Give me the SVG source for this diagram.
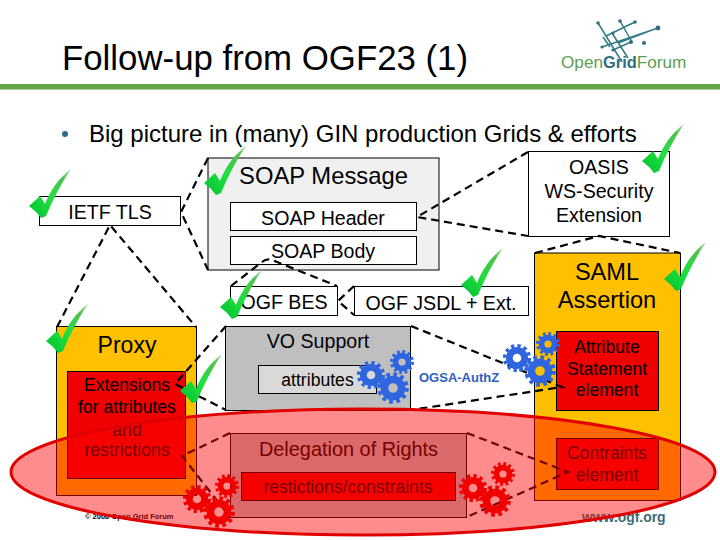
<svg xmlns="http://www.w3.org/2000/svg" xmlns:xlink="http://www.w3.org/1999/xlink" width="720" height="540" viewBox="0 0 720 540">
<style>
text{font-family:"Liberation Sans",Arial,sans-serif;fill:#000}
.c{text-anchor:middle}
.b{stroke:#000;stroke-width:1}
.dash{fill:none;stroke:#000;stroke-width:2.2;stroke-dasharray:8 5}
.s17{font-size:17.6px}.s19{font-size:19.6px}.s23{font-size:23.6px}
.blue{stroke:#2f66e0}.red{stroke:#f00000}
.lg{stroke:#2f7a86;stroke-width:1.5;fill:none}
</style>
<defs>
<linearGradient id="chk" x1="0" y1="1" x2="1" y2="0">
<stop offset="0" stop-color="#00c030"/><stop offset=".45" stop-color="#1fe040"/><stop offset=".8" stop-color="#50c050"/><stop offset="1" stop-color="#a8dca8"/>
</linearGradient>
<path id="check" d="M0 37L11 27L16 35C22 20 30 9 42 0C32 15 24 30 17 47L12 49Q7 42 0 37Z" fill="url(#chk)"/>
<g id="gear" fill="none">
<circle r="0.82" transform="scale(14.700)" stroke-width="0.28" stroke-dasharray="0.22 0.2094"/>
<circle r="0.52" transform="scale(14.700)" stroke-width="0.46"/>
</g>
</defs>
<rect width="720" height="540" fill="#fff"/>
<g id="header">
<text x="62" y="70" font-size="34.8">Follow-up from OGF23 (1)</text>
<rect x="0" y="84" width="720" height="5.5" fill="#63a646"/>
<g id="logo">
<path class="lg" d="M598 23L622 62M620 21L632 42M612 33L628 58M602 47L658 28M606 36L635 22M613 50L631 42M618 43L652 30M603 37L610 47"/>
<g fill="#2f6f80"><circle cx="598" cy="23" r="1.8"/><circle cx="620" cy="21" r="1.8"/><circle cx="635" cy="22" r="1.8"/><circle cx="658" cy="28" r="2.4"/><circle cx="644" cy="43" r="2"/><circle cx="631" cy="42" r="2"/><circle cx="613" cy="50" r="1.6"/><circle cx="602" cy="47" r="1.6"/><circle cx="613" cy="33" r="1.6"/></g>
<text x="561" y="68" font-size="17.200" style="fill:#5f9e50">Open<tspan style="fill:#2f6f80;font-weight:bold" font-size="16.400">Grid</tspan>Forum</text>
</g>
</g>
<g id="bullet">
<circle cx="65" cy="134" r="3" fill="#2e6d8e"/>
<text x="89" y="141.500" font-size="24">Big picture in (many) GIN production Grids &amp; efforts</text>
</g>
<g id="soap-message"><rect class="b" x="208" y="158" width="231" height="112" fill="#f0f0f0"/><text x="323.500" y="184" class="c" font-size="23.8">SOAP Message</text></g>
<g id="soap-header"><rect class="b" x="230.500" y="202.500" width="186" height="28" fill="#fff"/><text x="323" y="225" class="c s19">SOAP Header</text></g>
<g id="soap-body"><rect class="b" x="230.500" y="236.500" width="186" height="28" fill="#fff"/><text x="323" y="258" class="c s19">SOAP Body</text></g>
<g id="ietf-tls"><rect class="b" x="39.500" y="196.500" width="141" height="29" fill="#fff"/><text x="110" y="219" class="c s19">IETF TLS</text></g>
<g id="ogf-bes"><rect class="b" x="230.500" y="286.500" width="107" height="29" fill="#fff"/><text x="284" y="309" class="c s19">OGF BES</text></g>
<g id="ogf-jsdl"><rect class="b" x="354.500" y="286.500" width="174" height="29" fill="#fff"/><text x="441" y="310" class="c s19">OGF JSDL + Ext.</text></g>
<g id="oasis"><rect class="b" x="528.500" y="151.500" width="141" height="85" fill="#fff"/><text class="c s19" x="599" y="174">OASIS</text><text class="c s19" x="599" y="198">WS-Security</text><text class="c s19" x="599" y="222">Extension</text></g>
<g id="saml"><rect class="b" x="534.500" y="253" width="146" height="247.500" fill="#ffc000"/><text class="c s23" x="607" y="280">SAML</text><text class="c s23" x="607" y="308">Assertion</text></g>
<g id="attribute-statement"><rect class="b" x="556.500" y="331.500" width="102" height="79" fill="#f00000"/><text class="c s17" x="607" y="353">Attribute</text><text class="c s17" x="607" y="375">Statement</text><text class="c s17" x="607" y="396">element</text></g>
<g id="constraints"><rect class="b" x="556.500" y="438.500" width="102" height="51" fill="#f00000"/><text class="c s17" x="607" y="459">Contraints</text><text class="c s17" x="607" y="481">element</text></g>
<g id="proxy"><rect class="b" x="56.500" y="326.500" width="140" height="169" fill="#ffc000"/><text class="c" font-size="23" x="127" y="353">Proxy</text></g>
<g id="extensions"><rect class="b" x="67.500" y="371.500" width="118" height="107" fill="#f00000"/><text class="c s17" x="127" y="391">Extensions</text><text class="c s17" x="127" y="413">for attributes</text><text class="c s17" x="127" y="436">and</text><text class="c s17" x="127" y="456">restrictions</text></g>
<g id="vo-support"><rect class="b" x="225.500" y="326.500" width="185" height="84" fill="#bfbfbf"/><text class="c s19" x="318" y="348">VO Support</text></g>
<g id="attributes"><rect class="b" x="258.500" y="365.500" width="118" height="28" fill="#d9d9d9"/><text class="c s17" x="317.500" y="386">attributes</text></g>
<g id="delegation"><rect class="b" x="230.500" y="433.500" width="236" height="84" fill="#bfbfbf"/><text class="c" font-size="19.900" x="348.500" y="456">Delegation of Rights</text></g>
<g id="restrictions"><rect class="b" x="241.500" y="472.500" width="214" height="28" fill="#f00000"/><text class="c s17" x="348" y="493">restictions/constraints</text></g>
<g id="connectors">
<path class="dash" d="M208 158L181 212L208 270"/>
<path class="dash" d="M57 327L110 225L196 327"/>
<path class="dash" d="M528 152L417 217L528 236"/>
<path class="dash" d="M535 253L599 236L680 253"/>
<path class="dash" d="M231 286L262 262Q267 258 272 260L337 286"/>
<path class="dash" d="M354 286L338 301L354 315"/>
<path class="dash" d="M226 326L175 384L226 410"/>
<path class="dash" d="M411 326L562 387L411 410"/>
<path class="dash" d="M230 433L182 456L230 517"/>
<path class="dash" d="M467 433L568 472L467 517"/>
</g>
<g id="footer">
<text x="85" y="519" font-size="7.500" font-weight="bold">© 2006 Open Grid Forum</text>
<text x="582" y="522" style="fill:#3a6a78" font-size="13.900" font-weight="bold">www.ogf.org</text>
</g>
<g id="highlight"><ellipse cx="363" cy="472" rx="352" ry="63" fill="#ff0000" fill-opacity=".45" stroke="#e00000" stroke-width="3"/></g>
<g id="ogsa"><text x="419" y="382" font-size="13" font-weight="bold" style="fill:#2f5fc0">OGSA-AuthZ</text></g>
<g id="gears">
<use xlink:href="#gear" class="blue" transform="translate(371 375)"/>
<use xlink:href="#gear" class="blue" transform="translate(402 362) scale(.85)"/>
<use xlink:href="#gear" class="blue" transform="translate(393 388) scale(1.120)"/>
<use xlink:href="#gear" class="blue" transform="translate(517 358)"/>
<use xlink:href="#gear" class="blue" transform="translate(548 344) scale(.85)"/>
<use xlink:href="#gear" class="blue" transform="translate(540 371) scale(1.120)"/>
<use xlink:href="#gear" class="red" transform="translate(197 499)"/>
<use xlink:href="#gear" class="red" transform="translate(227 486) scale(.85)"/>
<use xlink:href="#gear" class="red" transform="translate(219 512) scale(1.120)"/>
<use xlink:href="#gear" class="red" transform="translate(473 488)"/>
<use xlink:href="#gear" class="red" transform="translate(503 474) scale(.85)"/>
<use xlink:href="#gear" class="red" transform="translate(495 501) scale(1.120)"/>
</g>
<g id="checks">
<use xlink:href="#check" x="29" y="169"/>
<use xlink:href="#check" x="204" y="146"/>
<use xlink:href="#check" x="220" y="270"/>
<use xlink:href="#check" x="46" y="304"/>
<use xlink:href="#check" x="180" y="354"/>
<use xlink:href="#check" x="461" y="248"/>
<use xlink:href="#check" x="642" y="124"/>
<use xlink:href="#check" x="664" y="242"/>
</g>
</svg>
